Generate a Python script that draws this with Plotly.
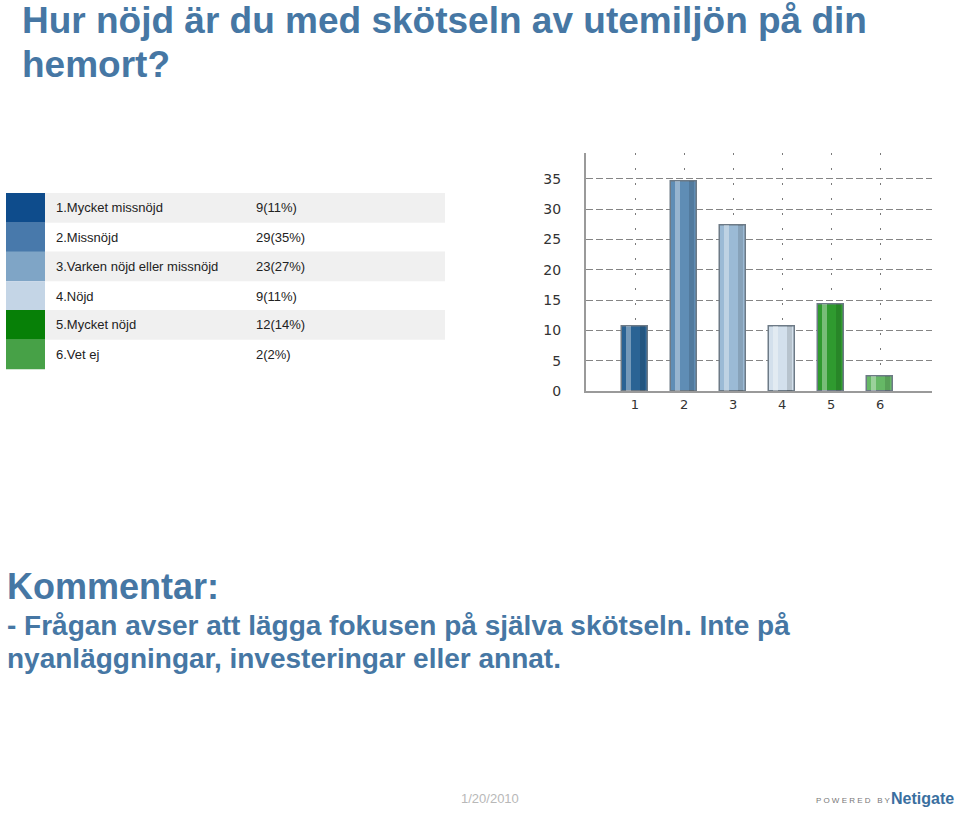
import plotly.graph_objects as go

W, H = 960, 816

# ---- data ----
categories = [1, 2, 3, 4, 5, 6]
tick_labels = ["1", "2", "3", "4", "5", "6"]
bar_values = [10.7, 34.5, 27.4, 10.7, 14.3, 2.4]  # percent shown by bars
legend_labels = ["1.Mycket missnöjd", "2.Missnöjd", "3.Varken nöjd eller missnöjd",
                 "4.Nöjd", "5.Mycket nöjd", "6.Vet ej"]
legend_values = ["9(11%)", "29(35%)", "23(27%)", "9(11%)", "12(14%)", "2(2%)"]
y_ticks = [0, 5, 10, 15, 20, 25, 30, 35]

bar_colors = ["#2a6394", "#5f8db5", "#9bbad5", "#d3e0ec", "#2f9a2f", "#66b866"]
swatch_colors = ["#0e4c8c", "#4879ab", "#7fa5c6", "#c4d5e6", "#078007", "#47a147"]

TITLE_COLOR = "#4677a4"


def px(x):
    return x / W


def py(y):
    return 1 - y / H


fig = go.Figure()

# base bars
fig.add_trace(go.Bar(
    x=categories, y=bar_values, width=0.52,
    marker=dict(color=bar_colors, line=dict(color="#6d7a86", width=1.5)),
    hoverinfo="x+y", showlegend=False))
# highlight stripe (cylinder look)
fig.add_trace(go.Bar(
    x=categories, y=bar_values, width=0.1, offset=-0.19,
    marker=dict(color="rgba(255,255,255,0.35)", line=dict(width=0)),
    hoverinfo="skip", showlegend=False))
# shadow stripe
fig.add_trace(go.Bar(
    x=categories, y=bar_values, width=0.1, offset=0.1,
    marker=dict(color="rgba(0,0,0,0.13)", line=dict(width=0)),
    hoverinfo="skip", showlegend=False))

fig.update_layout(
    width=W, height=H,
    margin=dict(l=0, r=0, t=0, b=0),
    paper_bgcolor="white", plot_bgcolor="white",
    barmode="overlay", bargap=0,
    showlegend=False,
    xaxis=dict(
        domain=[px(586), px(932)], range=[0, 7.06],
        tickmode="array", tickvals=categories, ticktext=tick_labels,
        showgrid=True, gridcolor="#7a7a7a", griddash="2px,13px", gridwidth=1,
        showline=True, linecolor="#9a9a9a", linewidth=2,
        ticks="", zeroline=False,
        tickfont=dict(family="DejaVu Sans", size=13, color="#333333"),
        fixedrange=True,
    ),
    yaxis=dict(
        domain=[py(395), py(155)], range=[0, 39.2],
        tickmode="array", tickvals=y_ticks,
        showgrid=True, gridcolor="#858585", griddash="7px,3px", gridwidth=1,
        showline=True, linecolor="#9a9a9a", linewidth=2,
        ticks="", zeroline=False,
        ticklabelstandoff=20,
        tickfont=dict(family="DejaVu Sans", size=14, color="#333333"),
        fixedrange=True,
    ),
)

shapes = []
annotations = []

TITLE_FONT = "Liberation Sans Narrow, Arial Narrow, Liberation Sans, Arial"

# title
annotations.append(dict(
    x=px(20), y=py(21), xref="paper", yref="paper", xanchor="left", yanchor="middle",
    text="<b>Hur nöjd är du med skötseln av utemiljön på din</b>", showarrow=False,
    font=dict(family=TITLE_FONT, size=37, color=TITLE_COLOR)))
annotations.append(dict(
    x=px(20), y=py(65), xref="paper", yref="paper", xanchor="left", yanchor="middle",
    text="<b>hemort?</b>", showarrow=False,
    font=dict(family=TITLE_FONT, size=37, color=TITLE_COLOR)))

# legend table
row_tops = [195, 225, 254, 284, 313, 343]
row_h = 30
for i, (lab, val) in enumerate(zip(legend_labels, legend_values)):
    t = row_tops[i]
    b = t + row_h if i < 5 else 373
    if i % 2 == 0:
        shapes.append(dict(type="rect", xref="paper", yref="paper",
                           x0=px(45), x1=px(445), y0=py(b), y1=py(t),
                           fillcolor="#f0f0f0", line=dict(width=0), layer="below"))
    shapes.append(dict(type="rect", xref="paper", yref="paper",
                       x0=px(6), x1=px(45), y0=py(b), y1=py(t),
                       fillcolor=swatch_colors[i], line=dict(width=0), layer="below"))
    cy = (t + b) / 2
    annotations.append(dict(
        x=px(54), y=py(cy), xref="paper", yref="paper", xanchor="left", yanchor="middle",
        text=lab, showarrow=False,
        font=dict(family="Liberation Sans, Arial", size=13, color="#222222")))
    annotations.append(dict(
        x=px(254), y=py(cy), xref="paper", yref="paper", xanchor="left", yanchor="middle",
        text=val, showarrow=False,
        font=dict(family="Liberation Sans, Arial", size=13, color="#222222")))

# comment
annotations.append(dict(
    x=px(5), y=py(592), xref="paper", yref="paper", xanchor="left", yanchor="middle",
    text="<b>Kommentar:</b>", showarrow=False,
    font=dict(family=TITLE_FONT, size=36, color=TITLE_COLOR)))
annotations.append(dict(
    x=px(5), y=py(632), xref="paper", yref="paper", xanchor="left", yanchor="middle",
    text="<b>- Frågan avser att lägga fokusen på själva skötseln. Inte på</b>", showarrow=False,
    font=dict(family=TITLE_FONT, size=28, color=TITLE_COLOR)))
annotations.append(dict(
    x=px(5), y=py(665), xref="paper", yref="paper", xanchor="left", yanchor="middle",
    text="<b>nyanläggningar, investeringar eller annat.</b>", showarrow=False,
    font=dict(family=TITLE_FONT, size=28, color=TITLE_COLOR)))

# footer
annotations.append(dict(
    x=px(459), y=py(806), xref="paper", yref="paper", xanchor="left", yanchor="middle",
    text="1/20/2010", showarrow=False,
    font=dict(family="Liberation Sans, Arial", size=13, color="#b8b8b8")))
annotations.append(dict(
    x=px(893), y=py(808), xref="paper", yref="paper", xanchor="right", yanchor="middle",
    text="P O W E R E D   B Y", showarrow=False,
    font=dict(family="Liberation Sans, Arial", size=8, color="#777777")))
annotations.append(dict(
    x=px(956), y=py(806), xref="paper", yref="paper", xanchor="right", yanchor="middle",
    text="<b>Netigate</b>", showarrow=False,
    font=dict(family="Liberation Sans, Arial", size=16, color="#3a6f9f")))

fig.update_layout(shapes=shapes, annotations=annotations)

fig.write_html(
    "out.html",
    config={"displayModeBar": False},
    post_script="document.body.style.margin='0';document.body.style.overflow='hidden';",
)
